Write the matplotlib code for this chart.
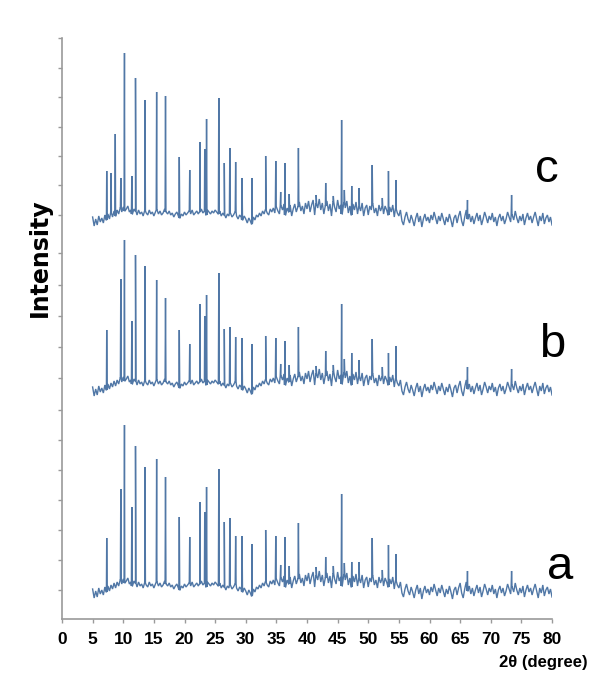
import numpy as np
import matplotlib
matplotlib.use("Agg")
import matplotlib.pyplot as plt

# 2-theta grid of the scan background (0.25 degree steps, 5..80)
two_theta = np.arange(5.0, 80.001, 0.25)

# background signal above each pattern's baseline (arb. units)
background = [
    -4, -13, -6, -12, -3, -9, -5, -10, -2, -7,     # 5.0
    -1, -6, 0, -4, 2, -3, 3, -1, 5, 1,             # 7.5
    6, 2, 4, 7, 1, 3, -1, 4, 2, -2,                # 10.0
    3, -1, 1, -3, 2, 0, -2, 3, -1, 1,              # 12.5
    -3, 1, 3, -1, 2, -2, 0, 4, 1, -1,              # 15.0
    2, -2, 0, -4, -1, 1, -3, -5, -1, -3,           # 17.5
    1, -2, 0, 2, -1, 3, -2, 0, 2, -1,              # 20.0
    1, 4, 0, 2, -2, 3, 1, -1, 2, 0,                # 22.5
    3, 1, -1, 2, -3, 0, -2, -5, -1, -3,            # 25.0
    0, -4, -2, 1, -3, -6, -2, -4, -7, -3,          # 27.5
    -6, -10, -5, -8, -11, -4, -7, -2, -4, 0,       # 30.0
    -3, 2, -1, 3, 0, -2, 4, 1, 5, 0,               # 32.5
    6, 2, -1, 7, 3, 9, -2, 5, 1, 8,                # 35.0
    -3, 4, 9, 1, 6, 11, 2, 7, -1, 10,              # 37.5
    4, 12, 1, 8, 13, -2, 9, 5, 14, 3,              # 40.0
    10, -1, 7, 12, 2, 9, -3, 11, 6, 1,             # 42.5
    13, 4, 8, -1, 10, 5, 12, 0, 7, -2,             # 45.0
    9, 3, 11, -1, 6, 2, 10, -3, 5, 8,              # 47.5
    -2, 7, 3, 9, 0, 5, -3, 8, 2, 6,                # 50.0
    -1, 7, 3, -2, 6, 1, 8, -4, 4, 0,               # 52.5
    -3, 3, -8, -12, -4, 1, -6, -10, -2, -7,        # 55.0
    -13, -5, 0, -9, -3, -14, -6, -1, -8, -4,       # 57.5
    -10, -2, -7, 1, -5, -11, -3, -8, 0, -6,        # 60.0
    -12, -4, -9, -1, -7, -14, -5, -2, -10, -3,     # 62.5
    2, -8, -13, -4, 3, -6, -1, -9, -3, -11,        # 65.0
    -5, 0, -8, -2, -12, -6, 1, -4, -10, -3,        # 67.5
    -7, 0, -9, -4, -13, -5, -1, -8, -3, -11,       # 70.0
    -6, 1, -4, -9, -2, -7, 2, -5, -10, -3,         # 72.5
    -8, -1, -12, -5, 0, -7, -3, -10, -4, 1,        # 75.0
    -6, -13, -3, -8, 0, -11, -5, -2, -9, -4,       # 77.5
    -12,                                           # 80.0
]

# reflection positions (2-theta) and apex heights above baseline
peak_pos = [7.3, 8.0, 8.7, 9.6, 10.2, 11.4, 12.0, 13.55, 15.45, 16.9,
            19.15, 20.85, 22.5, 23.3, 23.6, 25.6, 26.5, 27.4, 28.35, 29.4,
            31.0, 33.25, 34.9, 35.7, 36.4, 37.1, 38.6, 41.5, 43.05, 44.3,
            45.65, 46.1, 47.3, 48.5, 50.65, 52.3, 53.3, 54.5, 66.2, 73.4]
peaks_a = [47, 0, 0, 96, 160, 78, 139, 118, 126, 108,
           68, 48, 83, 73, 98, 116, 63, 67, 49, 49,
           41, 55, 49, 20, 48, 19, 62, 18, 28, 19,
           91, 22, 23, 23, 47, 15, 40, 31, 14, 14]
peaks_b = [53, 0, 0, 104, 143, 62, 128, 117, 103, 85,
           53, 39, 79, 67, 88, 110, 54, 56, 46, 45,
           39, 47, 45, 19, 42, 18, 56, 17, 32, 18,
           79, 24, 30, 23, 44, 16, 30, 37, 16, 14]
peaks_c = [42, 40, 79, 35, 160, 37, 135, 113, 121, 117,
           56, 43, 71, 64, 94, 115, 50, 65, 51, 35,
           35, 57, 52, 21, 50, 19, 65, 18, 30, 17,
           93, 23, 27, 25, 48, 15, 42, 33, 13, 18]

labels = ["a", "b", "c"]
offsets = [34, 236, 406]

LINE = "#5077a6"
AXIS = "#9a9a9a"


def build_pattern(heights, offset):
    bg = np.asarray(background, dtype=float)
    xs = list(two_theta)
    ys = list(bg)
    for p, h in zip(peak_pos, heights):
        if h <= 0:
            continue
        foot = bg[np.argmin(np.abs(two_theta - p))]
        xs += [p - 0.07, p, p + 0.07]
        ys += [foot, h, foot]
    order = np.argsort(xs, kind="stable")
    return np.asarray(xs)[order], np.asarray(ys)[order] + offset


fig = plt.figure(figsize=(5.9, 6.76), dpi=100)
ax = fig.add_axes([62 / 590, 57 / 676, 490 / 590, 581 / 676])

for heights, off in zip([peaks_a, peaks_b, peaks_c], offsets):
    x, y = build_pattern(heights, off)
    ax.plot(x, y, color=LINE, lw=1.0, solid_joinstyle="miter")

ax.set_xlim(0, 80)
ax.set_ylim(0, 581)
ax.set_xticks(np.arange(0, 81, 5))
ax.set_yticks([29, 59, 89, 119, 149, 179, 209, 241, 272, 303, 334, 366,
               404, 434, 463, 492, 522, 551, 581])
ax.set_yticklabels([])

for side in ["top", "right"]:
    ax.spines[side].set_visible(False)
for side in ["left", "bottom"]:
    ax.spines[side].set_color(AXIS)
    ax.spines[side].set_linewidth(1.2)
ax.tick_params(axis="both", direction="out", color=AXIS, length=3, width=1)
ax.tick_params(axis="x", labelsize=12.5, pad=6)
for t in ax.get_xticklabels():
    t.set_family("Liberation Sans")
    t.set_fontweight("bold")

# sample labels on the right side of each pattern
label_xy = [(81.4, 52), (80.0, 274), (79.1, 449)]
for lab, (lx, ly) in zip(labels, label_xy):
    ax.text(lx, ly, lab, fontsize=34, ha="center", va="center",
            family="Liberation Sans")

fig.text(40 / 590, 1 - 258 / 676, "Intensity", rotation=90, fontsize=17,
         fontweight="bold", ha="center", va="center")
fig.text(588 / 590, 1 - 663 / 676, "2θ (degree)", fontsize=12,
         fontweight="bold", ha="right", va="center", family="Liberation Sans")

fig.savefig("out.png", dpi=100, facecolor="white")
